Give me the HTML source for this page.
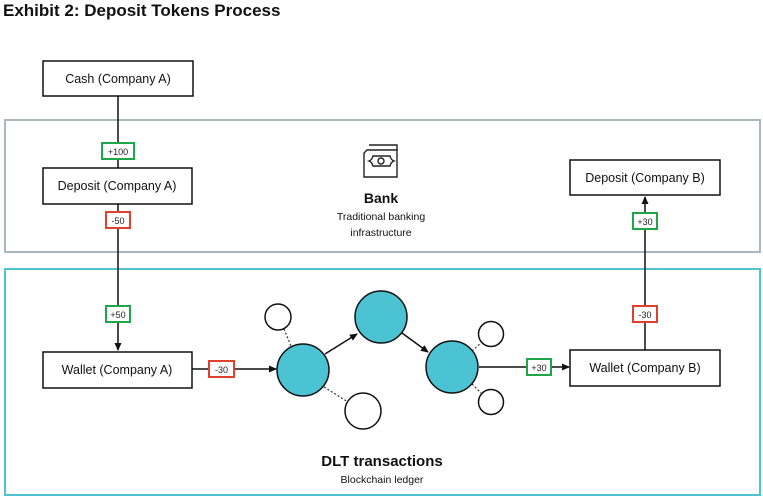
<!DOCTYPE html>
<html><head><meta charset="utf-8"><style>
body{margin:0;background:#fff;width:763px;height:497px;overflow:hidden}
svg{display:block}
text{font-family:"Liberation Sans",sans-serif}
</style></head><body>
<svg width="763" height="497" viewBox="0 0 763 497" xmlns="http://www.w3.org/2000/svg">
<defs><marker id="a" markerWidth="8" markerHeight="8" refX="7" refY="4" orient="auto" markerUnits="userSpaceOnUse"><path d="M0,0.5 L8,4 L0,7.5z" fill="#111"/></marker></defs>
<text x="3" y="16" font-size="17" font-weight="bold" fill="#111">Exhibit 2: Deposit Tokens Process</text>
<rect x="5" y="120" width="755" height="132" fill="none" stroke="#a9b8bf" stroke-width="2"/>
<rect x="5" y="269" width="755" height="226" fill="none" stroke="#4fc3d0" stroke-width="2"/>
<!-- left vertical -->
<line x1="118" y1="96" x2="118" y2="168" stroke="#111" stroke-width="1.5"/>
<line x1="118" y1="204" x2="118" y2="350" stroke="#111" stroke-width="1.5" marker-end="url(#a)"/>
<!-- right vertical -->
<line x1="645" y1="350" x2="645" y2="197" stroke="#111" stroke-width="1.5" marker-end="url(#a)"/>
<!-- horizontals -->
<line x1="192" y1="369" x2="276" y2="369" stroke="#111" stroke-width="1.5" marker-end="url(#a)"/>
<line x1="479" y1="367" x2="569" y2="367" stroke="#111" stroke-width="1.5" marker-end="url(#a)"/>
<line x1="325" y1="354" x2="357" y2="334" stroke="#111" stroke-width="1.5" marker-end="url(#a)"/>
<line x1="402" y1="333" x2="428" y2="352" stroke="#111" stroke-width="1.5" marker-end="url(#a)"/>
<!-- dotted -->
<g stroke="#333" stroke-width="1.2" stroke-dasharray="2,2">
<line x1="284" y1="329" x2="291" y2="346"/><line x1="324" y1="387" x2="348" y2="402"/>
<line x1="472" y1="351" x2="481" y2="343"/><line x1="472" y1="384" x2="481" y2="393"/>
</g>
<g stroke="#111" stroke-width="1.5">
<circle cx="303" cy="370" r="26" fill="#4bc3d2"/>
<circle cx="381" cy="317" r="26" fill="#4bc3d2"/>
<circle cx="452" cy="367" r="26" fill="#4bc3d2"/>
<circle cx="278" cy="317" r="13" fill="#fff"/>
<circle cx="363" cy="411" r="18" fill="#fff"/>
<circle cx="491" cy="334" r="12.5" fill="#fff"/>
<circle cx="491" cy="402" r="12.5" fill="#fff"/>
</g>
<!-- boxes -->
<g fill="#fff" stroke="#111" stroke-width="1.5">
<rect x="43" y="61" width="150" height="35"/>
<rect x="43" y="168" width="149" height="36"/>
<rect x="43" y="352" width="149" height="36"/>
<rect x="570" y="160" width="150" height="35"/>
<rect x="570" y="350" width="150" height="36"/>
</g>
<g font-size="12.5" fill="#111" text-anchor="middle">
<text x="118" y="83">Cash (Company A)</text>
<text x="117" y="190">Deposit (Company A)</text>
<text x="117" y="374">Wallet (Company A)</text>
<text x="645" y="182">Deposit (Company B)</text>
<text x="645" y="372">Wallet (Company B)</text>
</g>
<!-- value tags -->
<g fill="#fff" stroke-width="2">
<rect x="102" y="143" width="32" height="16" stroke="#1fa64a"/>
<rect x="106" y="212" width="24" height="16" stroke="#e0412f"/>
<rect x="106" y="306" width="24" height="16" stroke="#1fa64a"/>
<rect x="209" y="361" width="25" height="16" stroke="#e0412f"/>
<rect x="527" y="359" width="24" height="16" stroke="#1fa64a"/>
<rect x="633" y="306" width="24" height="16" stroke="#e0412f"/>
<rect x="633" y="213" width="24" height="16" stroke="#1fa64a"/>
</g>
<g font-size="9" fill="#222" text-anchor="middle">
<text x="118" y="155">+100</text><text x="118" y="224">-50</text><text x="118" y="318">+50</text>
<text x="221.5" y="373">-30</text><text x="539" y="371">+30</text><text x="645" y="318">-30</text><text x="645" y="225">+30</text>
</g>
<!-- bank icon -->
<g fill="none" stroke="#222" stroke-width="1.4">
<path d="M367 150 h30 v27 h-33 v-24 z"/>
<path d="M369 145 h28 v5"/>
<path d="M369 161 q3-1 4-5 h17 q1 4 4 5 q-3 1-4 5 h-17 q-1-4-4-5z"/>
<circle cx="381" cy="161" r="3"/>
</g>
<g text-anchor="middle" fill="#111">
<text x="381" y="203" font-size="14" font-weight="bold">Bank</text>
<text x="381" y="220" font-size="10.5">Traditional banking</text>
<text x="381" y="236" font-size="10.5">infrastructure</text>
<text x="382" y="466" font-size="15" font-weight="bold">DLT transactions</text>
<text x="382" y="483" font-size="10.5">Blockchain ledger</text>
</g>
</svg>
</body></html>
